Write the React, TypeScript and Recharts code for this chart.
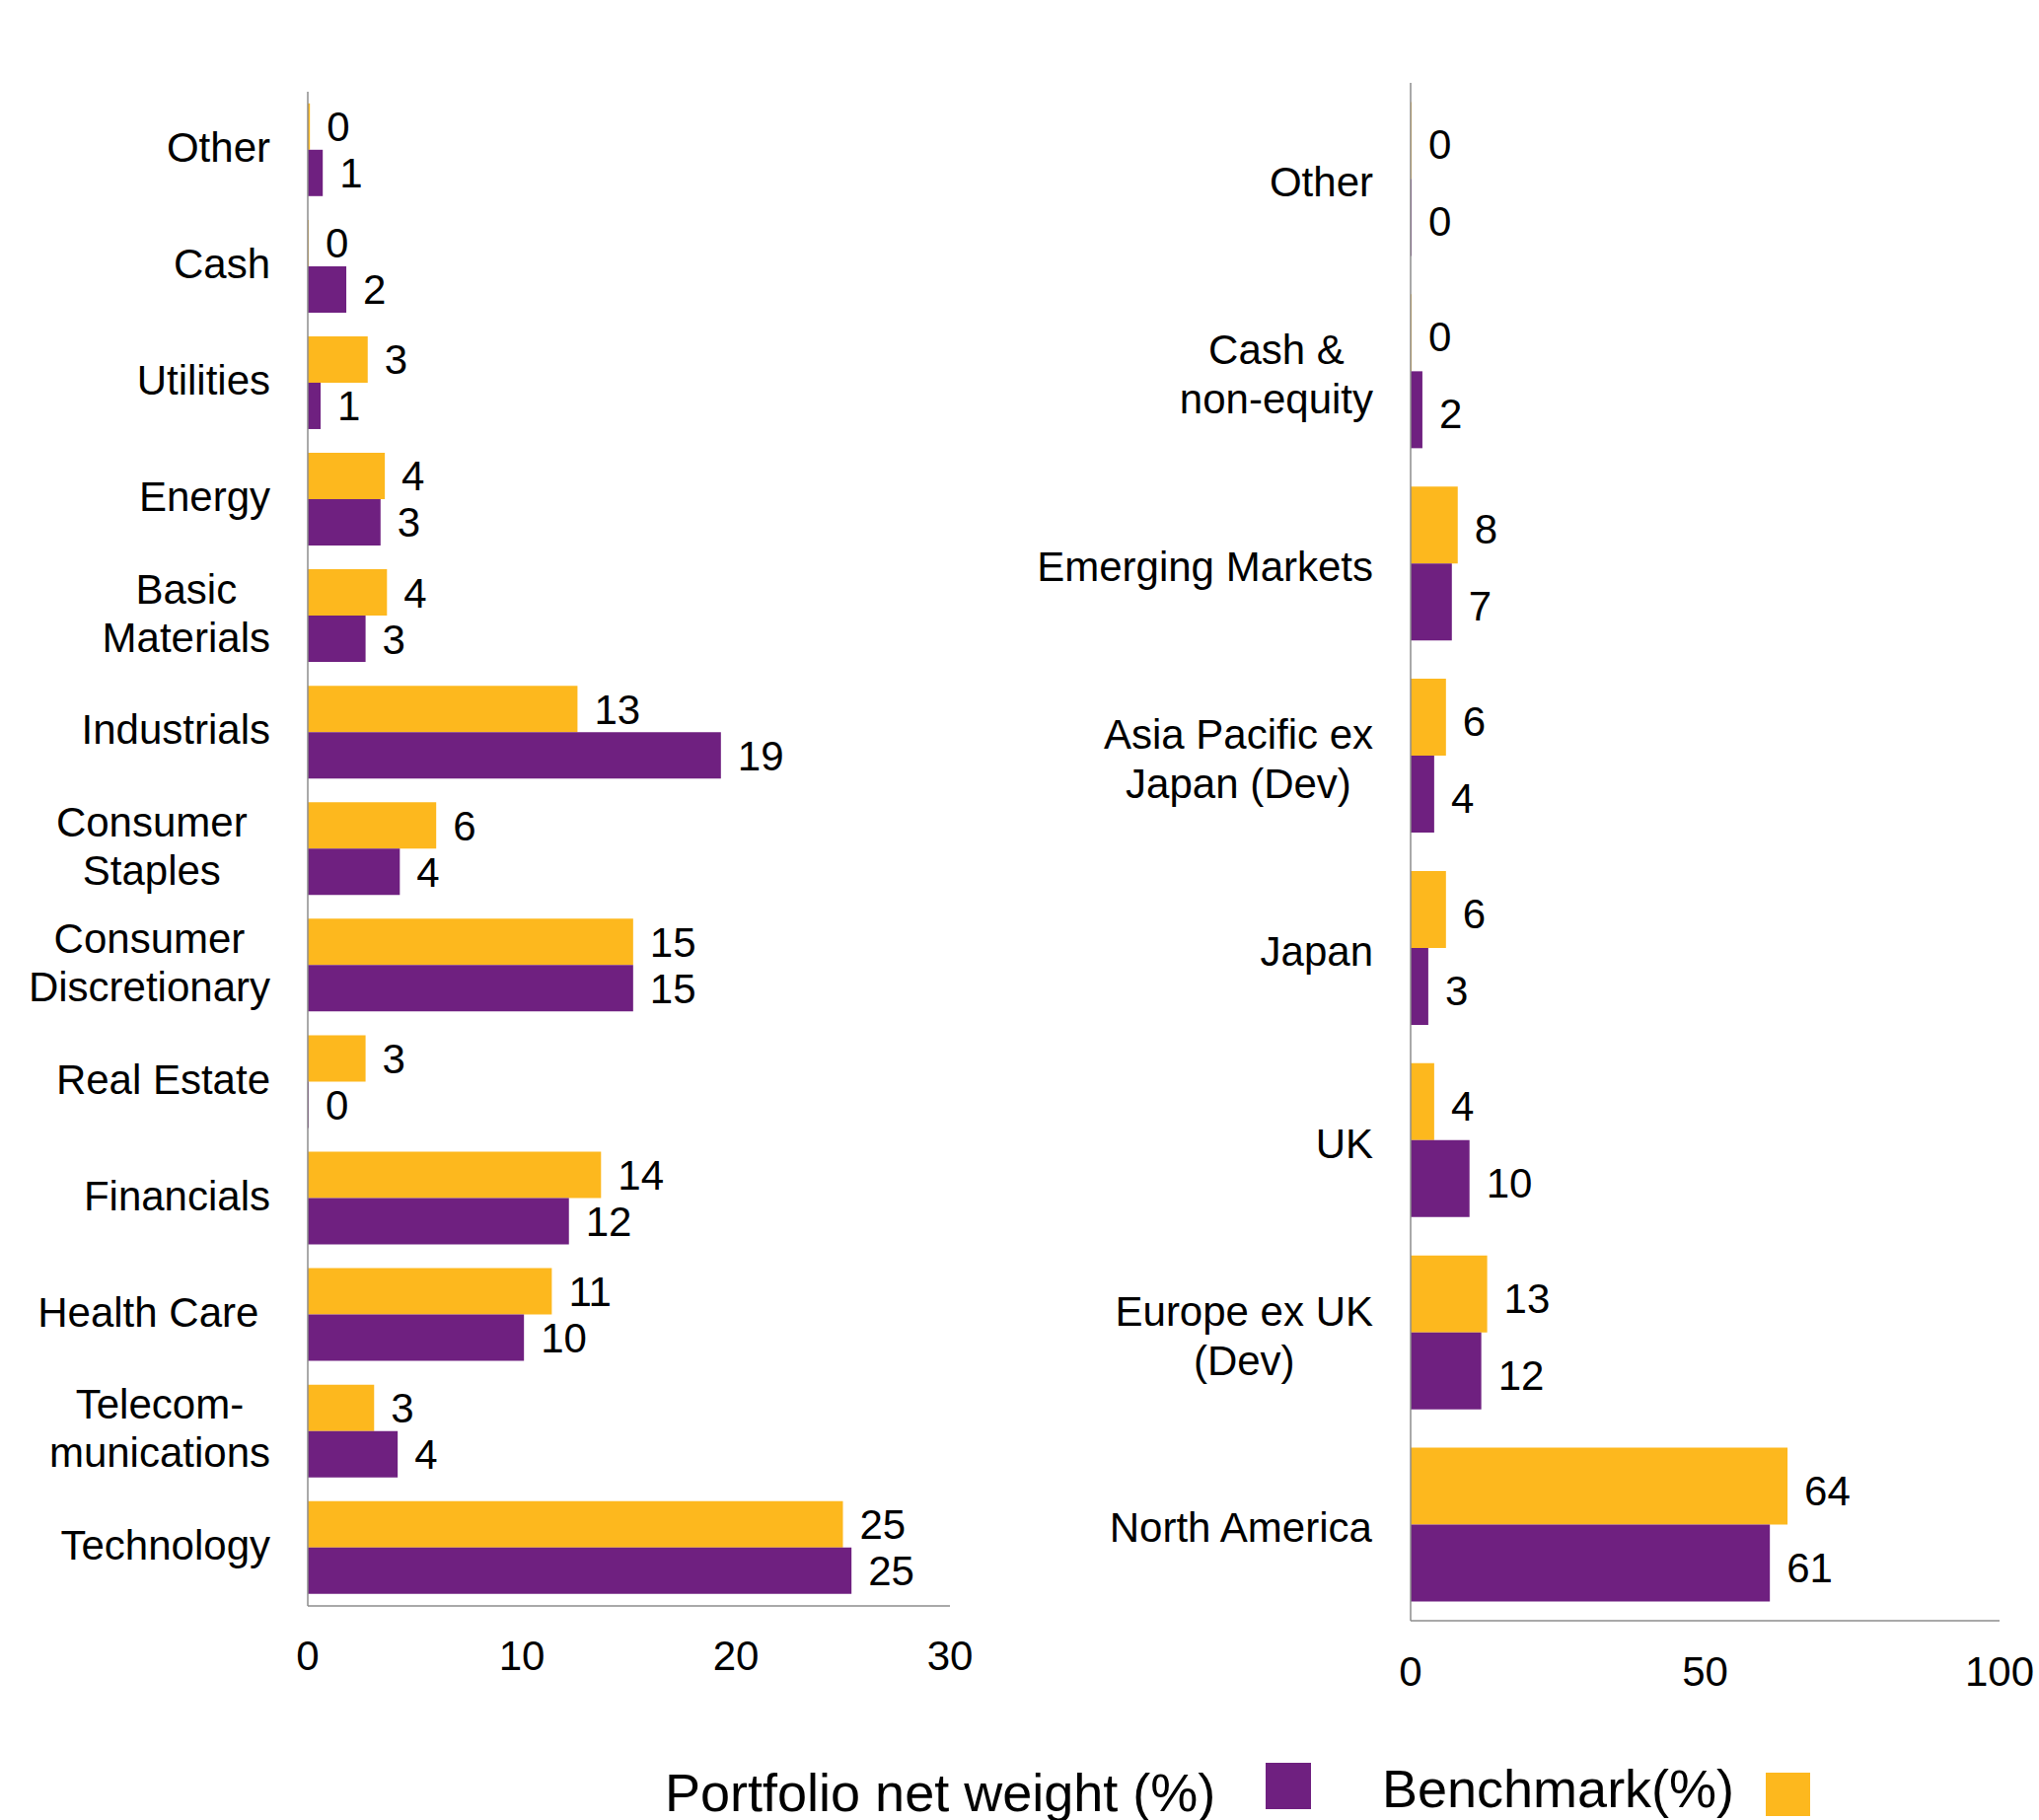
import React from 'react';
import { BarChart, Bar, XAxis, YAxis, LabelList } from 'recharts';

const FONT = "'Liberation Sans', Arial, Helvetica, sans-serif";
const PURPLE = '#6F2080';
const YELLOW = '#FDB81E';
const AXIS_COLOR = '#8c8c8c';
const FS = 42;

// ---- Sector chart (left) ----
const sectorCategories = [
  'Other', 'Cash', 'Utilities', 'Energy', 'Basic Materials', 'Industrials',
  'Consumer Staples', 'Consumer Discretionary', 'Real Estate', 'Financials',
  'Health Care', 'Telecommunications', 'Technology',
];
const sectorTickLines = [
  ['Other'], ['Cash'], ['Utilities'], ['Energy'], ['Basic', 'Materials'], ['Industrials'],
  ['Consumer\u00A0\u00A0', 'Staples\u00A0\u00A0'], ['Consumer', 'Discretionary'], ['Real Estate'], ['Financials'],
  ['Health Care\u00A0'], ['Telecom-', 'munications'], ['Technology'],
];
const sectorPortfolio = [0.7, 1.8, 0.6, 3.4, 2.7, 19.3, 4.3, 15.2, 0, 12.2, 10.1, 4.2, 25.4];
const sectorBenchmark = [0.1, 0, 2.8, 3.6, 3.7, 12.6, 6.0, 15.2, 2.7, 13.7, 11.4, 3.1, 25.0];
const sectorTicks = [0, 10, 20, 30];

// ---- Region chart (right) ----
const regionCategories = [
  'Other', 'Cash & non-equity', 'Emerging Markets', 'Asia Pacific ex Japan (Dev)',
  'Japan', 'UK', 'Europe ex UK (Dev)', 'North America',
];
const regionTickLines = [
  ['Other'], ['Cash &', 'non-equity'], ['Emerging Markets'], ['Asia Pacific ex', 'Japan (Dev)'],
  ['Japan'], ['UK'], ['Europe ex UK', '(Dev)'], ['North America'],
];
const regionPortfolio = [0, 2, 7, 4, 3, 10, 12, 61];
const regionBenchmark = [0, 0, 8, 6, 6, 4, 13, 64];
const regionTicks = [0, 50, 100];

const legendPortfolio = 'Portfolio net weight (%)';
const legendBenchmark = 'Benchmark(%)';

const sectorData = sectorCategories.map((name, i) => ({
  name, portfolio: sectorPortfolio[i], benchmark: sectorBenchmark[i],
}));
const regionData = regionCategories.map((name, i) => ({
  name, portfolio: regionPortfolio[i], benchmark: regionBenchmark[i],
}));

let ctx: CanvasRenderingContext2D | null = null;
function measure(s: string, size: number): number {
  if (!ctx && typeof document !== 'undefined') {
    ctx = document.createElement('canvas').getContext('2d');
  }
  if (!ctx) return s.length * size * 0.5;
  ctx.font = `${size}px ${FONT}`;
  return ctx.measureText(s).width;
}

function makeTick(categories: string[], lines: string[][], lineHeight: number, shift: number) {
  return (props: any) => {
    const { x, y, payload } = props;
    const idx = categories.indexOf(payload.value);
    const ls = idx >= 0 ? lines[idx] : [String(payload.value)];
    const w = Math.max(...ls.map((l) => measure(l, FS)));
    const cx = x - w / 2;
    const n = ls.length;
    return (
      <g>
        {ls.map((l, i) => (
          <text
            key={i}
            x={cx}
            y={y + shift + (i - (n - 1) / 2) * lineHeight}
            dy="0.355em"
            textAnchor="middle"
            fontSize={FS}
            fontFamily={FONT}
            fill="#000"
            style={{ whiteSpace: 'pre' }}
          >
            {l}
          </text>
        ))}
      </g>
    );
  };
}

const SectorTick = makeTick(sectorCategories, sectorTickLines, 49, -3);
const RegionTick = makeTick(regionCategories, regionTickLines, 50, 3);

const fmt = (v: any) => String(Math.round(Number(v)));

const labelStyle = { fontSize: FS, fontFamily: FONT, fill: '#000' };

export default function App() {
  return (
    <div style={{ position: 'absolute', left: 0, top: 0, width: 2067, height: 1845, background: '#fff', fontFamily: FONT }}>
      <div style={{ position: 'absolute', left: 0, top: 0 }}>
        <BarChart
          width={1000}
          height={1845}
          data={sectorData}
          layout="vertical"
          margin={{ top: 93, right: 37, bottom: 157, left: 0 }}
          barCategoryGap="10%"
          barGap={0}
        >
          <XAxis
            type="number"
            domain={[0, 30]}
            ticks={sectorTicks}
            height={60}
            axisLine={{ stroke: AXIS_COLOR, strokeWidth: 1.5 }}
            tickLine={false}
            tickMargin={29}
            tick={{ fontSize: FS, fill: '#000', fontFamily: FONT }}
            interval={0}
          />
          <YAxis
            type="category"
            dataKey="name"
            width={312}
            axisLine={{ stroke: AXIS_COLOR, strokeWidth: 1.5 }}
            tickLine={false}
            tickMargin={32}
            tick={SectorTick}
            interval={0}
          />
          <Bar dataKey="benchmark" fill={YELLOW} isAnimationActive={false} minPointSize={1}>
            <LabelList dataKey="benchmark" position="right" offset={17} formatter={fmt} {...labelStyle} />
          </Bar>
          <Bar dataKey="portfolio" fill={PURPLE} isAnimationActive={false} minPointSize={1}>
            <LabelList dataKey="portfolio" position="right" offset={17} formatter={fmt} {...labelStyle} />
          </Bar>
        </BarChart>
      </div>
      <div style={{ position: 'absolute', left: 1000, top: 0 }}>
        <BarChart
          width={1067}
          height={1845}
          data={regionData}
          layout="vertical"
          margin={{ top: 84, right: 40, bottom: 142, left: 0 }}
          barCategoryGap="10%"
          barGap={0}
        >
          <XAxis
            type="number"
            domain={[0, 100]}
            ticks={regionTicks}
            height={60}
            axisLine={{ stroke: AXIS_COLOR, strokeWidth: 1.5 }}
            tickLine={false}
            tickMargin={30}
            tick={{ fontSize: FS, fill: '#000', fontFamily: FONT }}
            interval={0}
          />
          <YAxis
            type="category"
            dataKey="name"
            width={430}
            axisLine={{ stroke: AXIS_COLOR, strokeWidth: 1.5 }}
            tickLine={false}
            tickMargin={32}
            tick={RegionTick}
            interval={0}
          />
          <Bar dataKey="benchmark" fill={YELLOW} isAnimationActive={false} minPointSize={1}>
            <LabelList dataKey="benchmark" position="right" offset={17} formatter={fmt} {...labelStyle} dy={4} />
          </Bar>
          <Bar dataKey="portfolio" fill={PURPLE} isAnimationActive={false} minPointSize={1}>
            <LabelList dataKey="portfolio" position="right" offset={17} formatter={fmt} {...labelStyle} dy={4} />
          </Bar>
        </BarChart>
      </div>
      <svg width={2067} height={1845} style={{ position: 'absolute', left: 0, top: 0, pointerEvents: 'none' }}>
        <text x={674} y={1836} fontSize={54} fontFamily={FONT} fill="#000">{legendPortfolio}</text>
        <rect x={1283} y={1787} width={46} height={47} fill={PURPLE} />
        <text x={1401} y={1832} fontSize={54} fontFamily={FONT} fill="#000">{legendBenchmark}</text>
        <rect x={1790} y={1797} width={45} height={44} fill={YELLOW} />
      </svg>
    </div>
  );
}
